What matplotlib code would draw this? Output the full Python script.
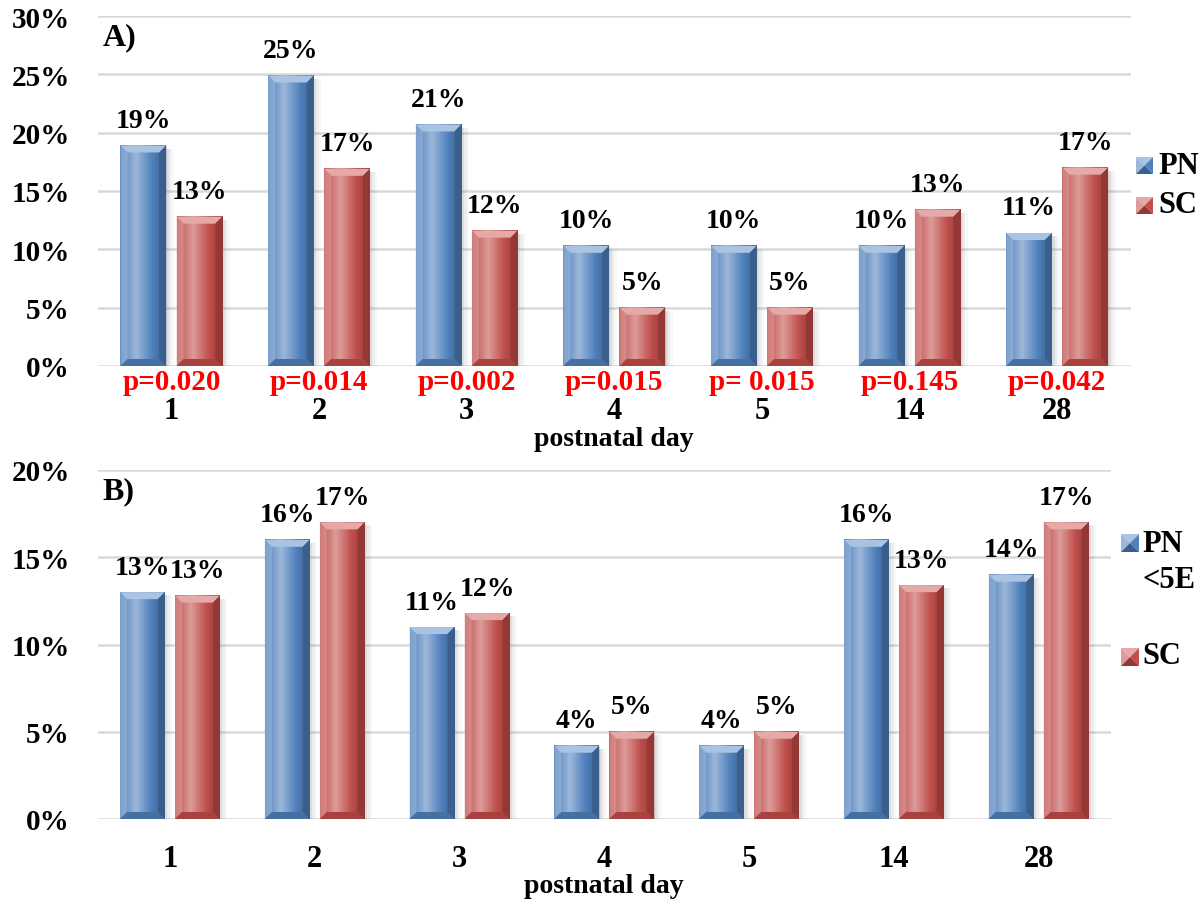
import matplotlib
matplotlib.use('Agg')
import matplotlib.pyplot as plt
import numpy as np
from matplotlib.colors import to_rgb
from matplotlib.patches import Polygon, Rectangle

plt.rcParams['font.family'] = ['Liberation Serif', 'DejaVu Serif']
plt.rcParams['font.weight'] = 'bold'

days = ['1', '2', '3', '4', '5', '14', '28']
pn_a = [18.9, 24.9, 20.7, 10.3, 10.3, 10.3, 11.4]
sc_a = [12.8, 16.9, 11.6, 5.0, 5.0, 13.4, 17.0]
pn_b = [13.0, 16.0, 11.0, 4.2, 4.2, 16.0, 14.0]
sc_b = [12.8, 17.0, 11.8, 5.0, 5.0, 13.4, 17.0]
p_values = ['p=0.020', 'p=0.014', 'p=0.002', 'p=0.015', 'p= 0.015', 'p=0.145', 'p=0.042']

BLUE = dict(base='#4F81BD', light='#9DB7DA', dark='#3A5F8C', top='#A9C3E3', bottom='#46709F')
RED = dict(base='#C0504D', light='#DC9C9A', dark='#933835', top='#E5A9A7', bottom='#A8423F')

W, H = 1201, 904
fig = plt.figure(figsize=(W / 100, H / 100), dpi=100)


def rect(l, t, r, b):
    return [l / W, 1 - b / H, (r - l) / W, (b - t) / H]


def lerp_colors(stops, n=64):
    pos = [s[0] for s in stops]
    cols = np.array([to_rgb(s[1]) for s in stops])
    xs = np.linspace(0, 1, n)
    return np.stack([np.interp(xs, pos, cols[:, k]) for k in range(3)], axis=-1)


def bevel_bars(ax, bars, pal, px_x, px_y, b=7):
    bx, by = b * px_x, b * px_y
    grad = lerp_colors([(0, pal['base']), (0.35, pal['light']), (0.7, pal['base']), (1, pal['dark'])])[None, :, :]
    for p in bars:
        x0, w, h = p.get_x(), p.get_width(), p.get_height()
        x1 = x0 + w
        # soft shadow on the right side
        for k, a in enumerate([0.10, 0.07, 0.04]):
            ax.add_patch(Rectangle((x1, 0), (k + 1) * 2.5 * px_x, h - 3 * px_y,
                                   color='#606060', alpha=a, lw=0, zorder=2))
        ax.imshow(grad, extent=(x0, x1, 0, h), aspect='auto', interpolation='bilinear', zorder=3)
        bb = min(by, h / 3)
        ax.add_patch(Polygon([(x0, h), (x1, h), (x1 - bx, h - bb), (x0 + bx, h - bb)],
                             color=pal['top'], lw=0, zorder=4))
        ax.add_patch(Polygon([(x0, 0), (x0, h), (x0 + bx, h - bb), (x0 + bx, bb)],
                             color=pal['light'], alpha=0.6, lw=0, zorder=4))
        ax.add_patch(Polygon([(x1, 0), (x1, h), (x1 - bx, h - bb), (x1 - bx, bb)],
                             color=pal['dark'], lw=0, zorder=4))
        ax.add_patch(Polygon([(x0, 0), (x1, 0), (x1 - bx, bb), (x0 + bx, bb)],
                             color=pal['bottom'], lw=0, zorder=4))
        p.set_visible(False)


def legend_marker(l, t, size, pal):
    m = fig.add_axes(rect(l, t, l + size, t + size))
    m.set_xlim(0, 1)
    m.set_ylim(0, 1)
    m.axis('off')
    c = (0.5, 0.5)
    m.add_patch(Polygon([(0, 1), (1, 1), c], color=pal['top'], lw=0))
    m.add_patch(Polygon([(0, 0), (0, 1), c], color=pal['light'], lw=0))
    m.add_patch(Polygon([(1, 0), (1, 1), c], color=pal['base'], lw=0))
    m.add_patch(Polygon([(0, 0), (1, 0), c], color=pal['dark'], lw=0))


def panel(ax, pn, sc, ymax, box, tick_pad, label_y, tag):
    l, t, r, b = box
    x = np.arange(len(days))
    ax.set_xlim(-0.5, len(days) - 0.5)
    ax.set_ylim(0, ymax)
    px_x = len(days) / (r - l)
    px_y = ymax / (b - t)
    bars_pn = ax.bar(x - 0.19, pn, width=0.31, color=BLUE['base'])
    bars_sc = ax.bar(x + 0.19, sc, width=0.31, color=RED['base'])
    bevel_bars(ax, bars_pn, BLUE, px_x, px_y)
    bevel_bars(ax, bars_sc, RED, px_x, px_y)
    ax.set_xlim(-0.5, len(days) - 0.5)
    ax.set_ylim(0, ymax)
    for bars, vals in ((bars_pn, pn), (bars_sc, sc)):
        for p, v in zip(bars, vals):
            ax.annotate('{:.0f}%'.format(v), (p.get_x() + p.get_width() / 2, v),
                        xytext=(0, 9), textcoords='offset points',
                        ha='center', va='bottom', fontsize=20, fontweight='bold', zorder=6)
    ax.set_yticks(np.arange(0, ymax + 1, 5))
    ax.set_yticklabels(['{}%'.format(v) for v in range(0, ymax + 1, 5)])
    ax.set_xticks(x)
    ax.set_xticklabels(days)
    ax.tick_params(axis='y', length=0, pad=20, labelsize=21)
    ax.tick_params(axis='x', length=0, pad=tick_pad, labelsize=22)
    ax.yaxis.grid(True, color='#D9D9D9', lw=1.8)
    ax.set_axisbelow(True)
    for s in ax.spines.values():
        s.set_visible(False)
    fig.text((l + r) / 2 / W, 1 - label_y / H, 'postnatal day', ha='center', va='center',
             fontsize=20, fontweight='bold')
    ax.text(0.005, 0.94, tag, transform=ax.transAxes, ha='left', va='center',
            fontsize=23, fontweight='bold')


box_a = (97.6, 17, 1131, 367)
box_b = (97.6, 471, 1111, 820)
ax_a = fig.add_axes(rect(*box_a))
ax_b = fig.add_axes(rect(*box_b))

panel(ax_a, pn_a, sc_a, 30, box_a, 21.5, 440, 'A)')
panel(ax_b, pn_b, sc_b, 20, box_b, 18, 887, 'B)')

for i, pv in enumerate(p_values):
    ax_a.annotate(pv, (i, 0), xycoords=('data', 'axes fraction'), xytext=(0, -1.5),
                  textcoords='offset points', ha='center', va='top', color='#FF0000',
                  fontsize=21, fontweight='bold', zorder=6)

# legends
legend_marker(1136, 158, 17, BLUE)
legend_marker(1136, 198, 17, RED)
fig.text(1158 / W, 1 - 166 / H, 'PN', ha='left', va='center', fontsize=22, fontweight='bold')
fig.text(1158 / W, 1 - 206 / H, 'SC', ha='left', va='center', fontsize=22, fontweight='bold')

legend_marker(1121, 535, 18, BLUE)
legend_marker(1121, 649, 18, RED)
fig.text(1142 / W, 1 - 545 / H, 'PN', ha='left', va='center', fontsize=22, fontweight='bold')
fig.text(1142 / W, 1 - 580 / H, '<5E', ha='left', va='center', fontsize=22, fontweight='bold')
fig.text(1142 / W, 1 - 657 / H, 'SC', ha='left', va='center', fontsize=22, fontweight='bold')

fig.savefig('out.png', dpi=100, facecolor='white')
